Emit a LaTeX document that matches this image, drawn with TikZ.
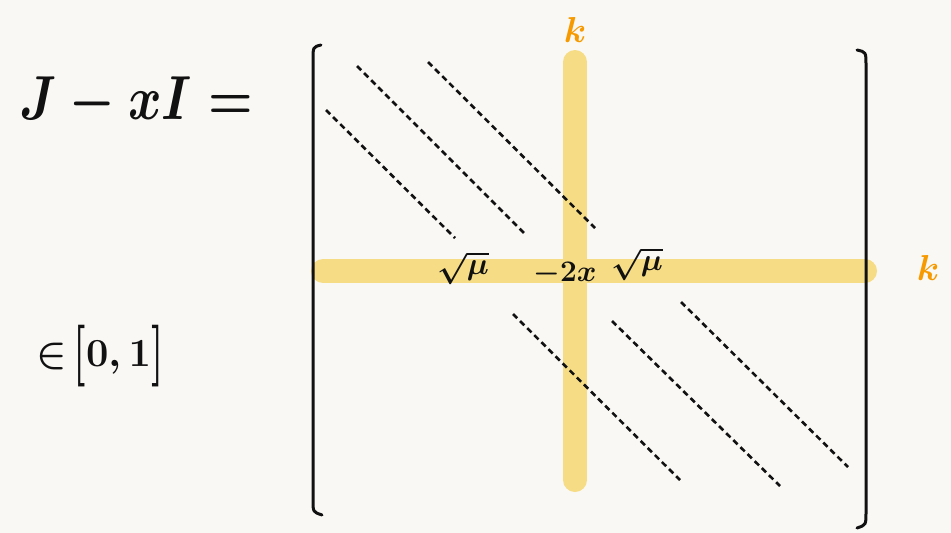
\documentclass[tikz,border=0pt]{standalone}
\usepackage{graphicx}
\usetikzlibrary{positioning}
\definecolor{paper}{HTML}{FAF8F4}
\definecolor{marker}{HTML}{F5DC85}
\definecolor{ink}{HTML}{111111}
\definecolor{kcol}{HTML}{F79A00}
\newcommand{\tallbr}[1]{\raisebox{-0.3ex}{\scalebox{1}[1.55]{$#1$}}}
\tikzset{
  hl/.style={draw=marker,line width=24pt,line cap=round},
  diagline/.style={draw=ink,line width=2.6pt,dash pattern=on 6pt off 4pt},
  brk/.style={draw=ink,line width=3pt,line cap=round},
  entry/.style={inner sep=0pt,text=ink,font=\Huge\boldmath},
  klabel/.style={inner sep=0pt,text=kcol,font=\Huge\boldmath},
  eqn/.style={inner sep=0pt,text=ink,font=\Huge\boldmath}
}

\begin{document}
\begin{tikzpicture}[x=1pt,y=-1pt]
\fill[paper] (0,0) rectangle (951,533);
\useasboundingbox (0,0) rectangle (951,533);

% row k and column k
\coordinate (coltop) at (575,62);
\coordinate (colbot) at (575,480);
\coordinate (rowl) at (323,271);
\coordinate (rowr) at (865,271);
\draw[hl] (coltop) -- (colbot);
\draw[hl] (rowl) -- (rowr);

\node[klabel] (ktop) at (575,30) {\scalebox{1.45}{$k$}};
\node[klabel] (kright) at (928,268) {\scalebox{1.45}{$k$}};

% left hand side
\node[eqn] (lhs) at (136,102) {\scalebox{2.05}[2.5]{$J - xI =$}};
\node[eqn] (range) at (100,356) {\scalebox{1.6}{$\in$\,\tallbr{[}$0,1$\tallbr{]}}};

% entries of row k
\node[entry] (sub) at (463,268) {\scalebox{1.25}{$\sqrt{\mu}$}};
\node[entry] (mid) at (565,274) {\scalebox{1.2}{$-2x$}};
\node[entry] (sup) at (637,264) {\scalebox{1.25}{$\sqrt{\mu}$}};

% diagonals
\foreach \xa/\ya/\xb/\yb in {326/110/455/238, 357/66/524/233, 428/62/595/228,
                             513/314/680/480, 612/321/780/486, 681/302/848/467}
  \draw[diagline] (\xa,\ya) -- (\xb,\yb);

% brackets
\draw[brk] (321,45) .. controls (313,47) .. (313,60) -- (313,500) .. controls (313,512) .. (322,515);
\draw[brk] (857,50) .. controls (866,52) .. (866,65) -- (866,512) .. controls (866,525) .. (857,528);
\end{tikzpicture}
\end{document}
